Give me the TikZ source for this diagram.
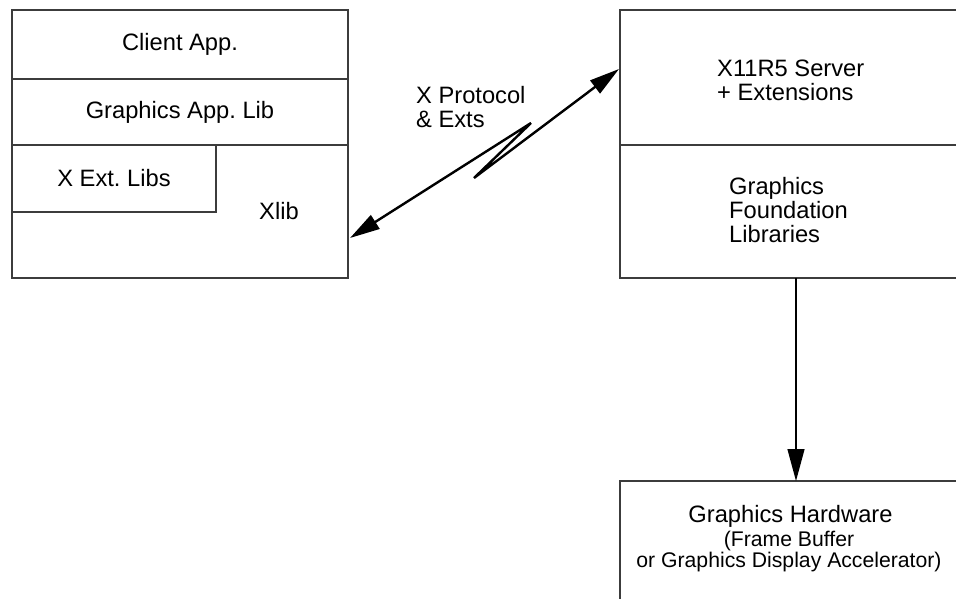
\documentclass[tikz,border=0pt]{standalone}
\usepackage{fontspec}
\setmainfont{Liberation Sans}
\usetikzlibrary{arrows.meta, positioning, calc}

\definecolor{BoxLine}{RGB}{60, 60, 60}

\begin{document}
\frenchspacing
\begin{tikzpicture}[x=1pt, y=-1pt,
    every node/.style={font=\fontsize{23.7}{24}\selectfont},
    layer/.style={draw=BoxLine, line width=1.3pt, rectangle, inner sep=0pt, outer sep=0pt, anchor=north west},
    note/.style={inner sep=0pt, align=left, anchor=north west},
    link/.style={-{Triangle[length=32pt, width=17pt]}, line width=1.3pt},
    proto/.style={{Triangle[length=30pt, width=16pt]}-{Triangle[length=30pt, width=16pt]}, line width=2.4pt, line join=bevel}]
    \useasboundingbox (0,0) rectangle (956,598);
    \clip (0,0) rectangle (956,598);

    % client side stack
    \node[layer, minimum width=336pt, minimum height=69pt] (client) at (12,10) {Client App.};
    \node[layer, minimum width=336pt, minimum height=66pt] (gfxlib) at (client.south west) {Graphics App. Lib};
    \node[layer, minimum width=336pt, minimum height=133pt] (xlib) at (gfxlib.south west) {};
    \node[layer, minimum width=204pt, minimum height=67pt] (xext) at (xlib.north west) {X Ext. Libs};
    \node (xlibtext) at (279,211) {Xlib};

    % server side stack
    \node[layer, minimum width=370pt, minimum height=135pt] (server) at (620,10) {};
    \node[layer, minimum width=370pt, minimum height=133pt] (found) at (server.south west) {};
    \node[note] (servertext) at (717,60) {X11R5 Server\\+ Extensions};
    \node[note] (foundtext) at (729,177) {Graphics\\Foundation\\Libraries};

    % hardware
    \node[layer, minimum width=370pt, minimum height=160pt] (hw) at (620,481) {};
    \node[inner sep=0pt, anchor=base] (hwtitle) at (790.5,522) {Graphics Hardware};
    \node[inner sep=0pt, anchor=base, align=center, font=\fontsize{21.2}{21}\selectfont] (hwnote) at (789,567) {(Frame Buffer\\or Graphics Display Accelerator)};

    % protocol link
    \coordinate (xlibend) at ($(xlib.east)+(2,26.5)$);
    \coordinate (serverend) at ($(server.west)+(-1,-8.5)$);
    \draw[proto] (xlibend) -- (531,123) -- (474,178) -- (serverend);
    \node[note] (protolabel) at (416,86) {X Protocol\\\& Exts};

    \draw[link] ([xshift=-9pt]found.south) -- ([xshift=-9pt]hw.north);
\end{tikzpicture}
\end{document}
